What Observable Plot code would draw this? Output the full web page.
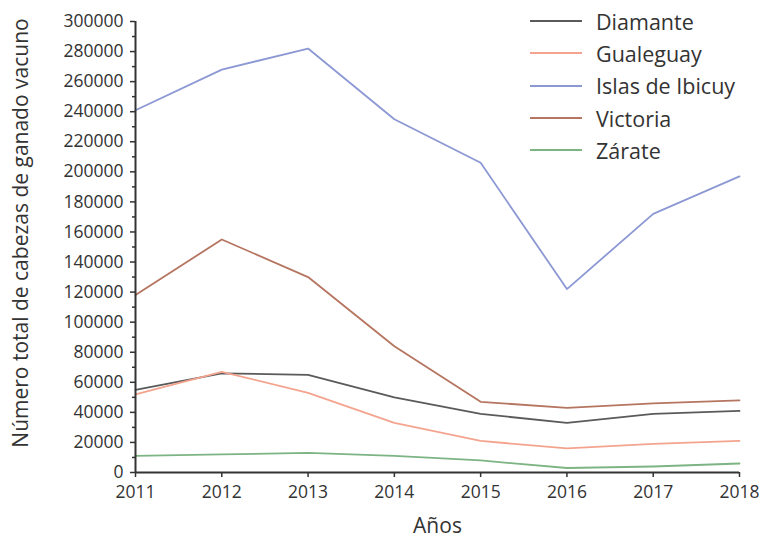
<!DOCTYPE html>
<html>
<head>
<meta charset="utf-8">
<script src="https://cdn.jsdelivr.net/npm/d3@7"></script>
<script src="https://cdn.jsdelivr.net/npm/@observablehq/plot@0.6"></script>
<style>
  html, body { margin: 0; padding: 0; background: #fff; }
  #wrap { position: relative; width: 760px; height: 537px; font-family: "Open Sans", sans-serif; }
  #legend { position: absolute; left: 530px; top: 5px; font-size: 21.5px; color: #333; }
  .row { display: flex; align-items: center; height: 32.3px; }
  .row svg { margin-right: 14px; }
</style>
</head>
<body>
<div id="wrap"><div id="legend"></div></div>
<script>
const years = [2011, 2012, 2013, 2014, 2015, 2016, 2017, 2018];
const seriesNames = ["Diamante", "Gualeguay", "Islas de Ibicuy", "Victoria", "Zárate"];
const colors = ["#5a5a5a", "#f4a48e", "#8c98d4", "#b57560", "#7db483"];
const diamante = [55000, 66000, 65000, 50000, 39000, 33000, 39000, 41000];
const gualeguay = [52000, 67000, 53000, 33000, 21000, 16000, 19000, 21000];
const islasDeIbicuy = [241000, 268000, 282000, 235000, 206000, 122000, 172000, 197000];
const victoria = [118000, 155000, 130000, 84000, 47000, 43000, 46000, 48000];
const zarate = [11000, 12000, 13000, 11000, 8000, 3000, 4000, 6000];
const yTicks = d3.range(0, 300001, 20000);
const yMinor = d3.range(10000, 300000, 20000);
const yLabel = "Número total de cabezas de ganado vacuno";
const xLabel = "Años";

const seriesValues = [diamante, gualeguay, islasDeIbicuy, victoria, zarate];
const data = seriesNames.flatMap((name, i) => years.map((yr, j) => ({name, year: yr, value: seriesValues[i][j]})));

const chart = Plot.plot({
  width: 760,
  height: 537,
  marginLeft: 135,
  marginRight: 21,
  marginTop: 21,
  marginBottom: 65,
  style: {fontFamily: "Open Sans, sans-serif", fontSize: "17px", color: "#333"},
  x: {domain: [2011, 2018]},
  y: {domain: [0, 300000]},
  color: {domain: seriesNames, range: colors},
  marks: [
    Plot.line(data, {x: "year", y: "value", z: "name", stroke: "name", strokeWidth: 1.8}),
    Plot.axisY({ticks: yTicks, tickSize: 5, tickFormat: d => String(d), tickPadding: 7, stroke: "#333", strokeWidth: 1.5, fontSize: 17.5,
      label: null}),
    Plot.axisY({ticks: yMinor, tickSize: 3, tickFormat: () => "", label: null, stroke: "#333", strokeWidth: 1.5}),
    Plot.text([yLabel], {text: d => d, frameAnchor: "left", textAnchor: "middle", rotate: -90, dx: -114, dy: -14, fontSize: 21, fill: "#333"}),
    Plot.axisX({ticks: years, tickSize: 5, tickFormat: d => String(d), tickPadding: 8, stroke: "#333", strokeWidth: 1.5, fontSize: 17.5,
      label: null}),
    Plot.axisX({ticks: years, tickSize: 0, tickFormat: () => "", label: xLabel, labelAnchor: "center", labelArrow: "none", labelOffset: 60, fontSize: 21}),
    Plot.ruleY([0], {stroke: "#333", strokeWidth: 2}),
    Plot.ruleX([2011], {stroke: "#333", strokeWidth: 2})
  ]
});
document.getElementById("wrap").prepend(chart);

const legend = document.getElementById("legend");
seriesNames.forEach((name, i) => {
  const row = document.createElement("div");
  row.className = "row";
  row.innerHTML = `<svg width="52" height="4"><line x1="0" x2="52" y1="2" y2="2" stroke="${colors[i]}" stroke-width="2.2"/></svg><span>${name}</span>`;
  legend.appendChild(row);
});
</script>
</body>
</html>
